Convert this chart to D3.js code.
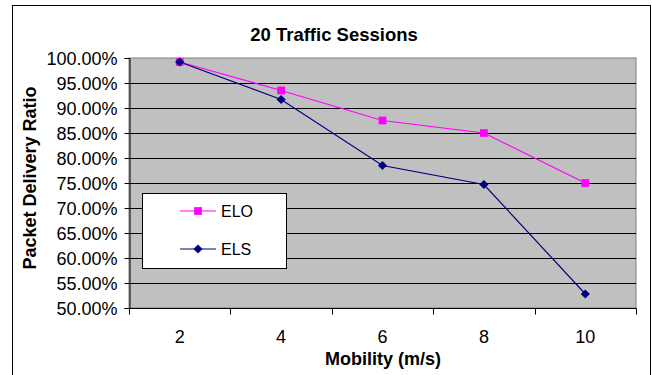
<!DOCTYPE html>
<html><head><meta charset="utf-8">
<script src="https://cdn.jsdelivr.net/npm/d3@7"></script>
<style>body{margin:0;background:#fff}svg{display:block}text{font-family:Arial,"Liberation Sans",sans-serif}</style>
</head><body><svg id="c" width="652" height="375"></svg>
<script>
const categories = ["2","4","6","8","10"];
const eloValues = [0.992, 0.935, 0.875, 0.850, 0.750];
const elsValues = [0.992, 0.917, 0.785, 0.747, 0.528];
const yTicks = [0.50,0.55,0.60,0.65,0.70,0.75,0.80,0.85,0.90,0.95,1.00];
const seriesNames = ["ELO","ELS"];

const svg = d3.select("#c");
svg.append("rect").attr("x",12.5).attr("y",5.5).attr("width",638).attr("height",380)
  .attr("fill","#fff").attr("stroke","#000").attr("stroke-width",1);

const L=129, R=636, T=58, B=308;
const x = d3.scaleBand().domain(categories).range([L,R]);
const y = d3.scaleLinear().domain([0.5,1.0]).range([B,T]);

svg.append("rect").attr("x",L).attr("y",T).attr("width",R-L).attr("height",B-T)
  .attr("fill","#c0c0c0").attr("stroke","#808080").attr("stroke-width",1);

svg.append("g").selectAll("line").data(yTicks.filter(d=>d>0.5 && d<1)).join("line")
  .attr("x1",L).attr("x2",R).attr("y1",d=>Math.round(y(d))+0.5).attr("y2",d=>Math.round(y(d))+0.5)
  .attr("stroke","#000").attr("stroke-width",1);

const yAxis = d3.axisLeft(y).tickValues(yTicks).tickFormat(d3.format(".2%")).tickSizeOuter(0).tickSize(5).tickPadding(7);
const gy = svg.append("g").attr("transform",`translate(${L+0.5},0)`).call(yAxis);
gy.selectAll("text").attr("font-size",18).attr("fill","#000").attr("dy","0.36em");
gy.selectAll("line,path").attr("stroke","#000");

const gx = svg.append("g").attr("transform",`translate(0,${B+0.5})`);
gx.append("line").attr("x1",L).attr("x2",R+0.5).attr("stroke","#000");
const bounds = categories.map((c,i)=>x(c)+x.bandwidth()).concat([L]);
gx.selectAll("line.t").data(bounds).join("line").attr("class","t")
  .attr("x1",d=>Math.round(d)+0.5).attr("x2",d=>Math.round(d)+0.5).attr("y1",0).attr("y2",6).attr("stroke","#000");
gx.selectAll("text").data(categories).join("text")
  .attr("x",d=>x(d)+x.bandwidth()/2).attr("y",34).attr("text-anchor","middle")
  .attr("font-size",18).text(d=>d);

const cx = d=>x(d)+x.bandwidth()/2;
const line = d3.line().x((d,i)=>cx(categories[i])).y(d=>y(d));

svg.append("path").datum(eloValues).attr("d",line).attr("fill","none").attr("stroke","#ff00ff").attr("stroke-width",1.2);
svg.append("path").datum(elsValues).attr("d",line).attr("fill","none").attr("stroke","#000080").attr("stroke-width",1.2);

const sq = d3.symbol().type(d3.symbolSquare).size(60);
const dm = d3.symbol().type(d3.symbolSquare).size(42);
svg.append("g").selectAll("path").data(eloValues).join("path")
  .attr("d",sq).attr("transform",(d,i)=>`translate(${cx(categories[i])},${y(d)})`).attr("fill","#ff00ff");
svg.append("g").selectAll("path").data(elsValues).join("path")
  .attr("d",dm).attr("transform",(d,i)=>`translate(${cx(categories[i])},${y(d)}) rotate(45)`).attr("fill","#000080");

const lg = svg.append("g");
lg.append("rect").attr("x",142.5).attr("y",193.5).attr("width",144).attr("height",75).attr("fill","#fff").attr("stroke","#000");
const legendColors = ["#ff00ff","#000080"];
const legendSyms = [sq, dm];
const legendRot = [0, 45];
seriesNames.forEach((n,i)=>{
  const yy = 211 + i*38;
  lg.append("line").attr("x1",180).attr("x2",216).attr("y1",yy).attr("y2",yy).attr("stroke",legendColors[i]).attr("stroke-width",1.2);
  lg.append("path").attr("d",legendSyms[i]).attr("transform",`translate(198,${yy}) rotate(${legendRot[i]})`).attr("fill",legendColors[i]);
  lg.append("text").attr("x",221).attr("y",yy+6).attr("font-size",16).text(n);
});

svg.append("text").attr("x",334).attr("y",41).attr("text-anchor","middle").attr("font-size",18.5).attr("font-weight","bold").text("20 Traffic Sessions");
svg.append("text").attr("x",383).attr("y",365).attr("text-anchor","middle").attr("font-size",18).attr("font-weight","bold").text("Mobility (m/s)");
svg.append("text").attr("transform","translate(36,178) rotate(-90)").attr("text-anchor","middle").attr("font-size",18).attr("font-weight","bold").text("Packet Delivery Ratio");
</script></body></html>
